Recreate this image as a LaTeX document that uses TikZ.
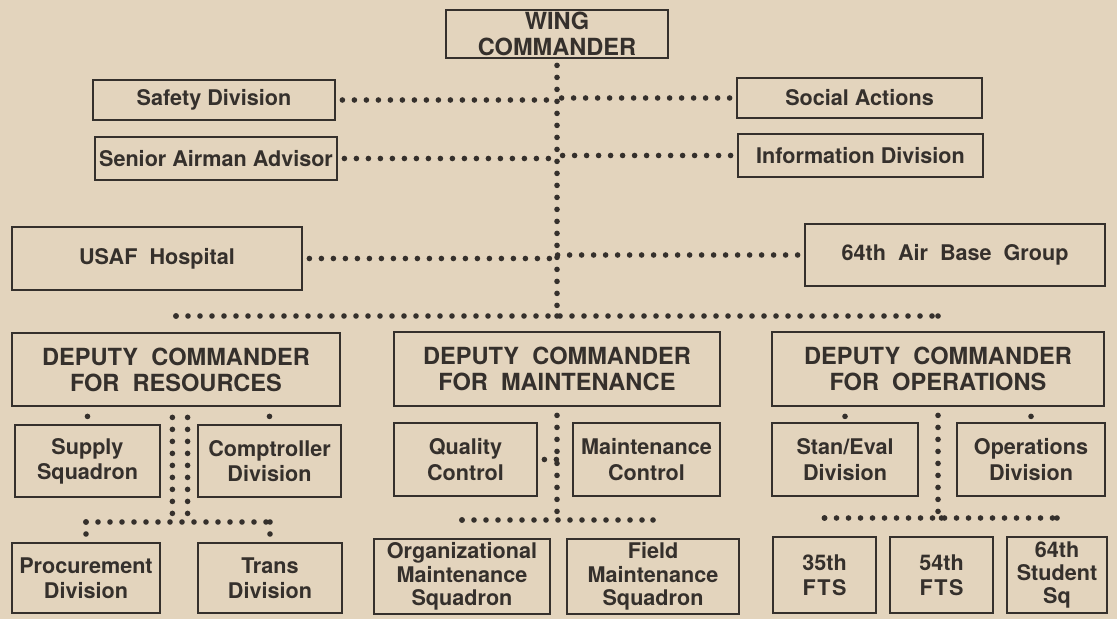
\documentclass[tikz,border=0pt]{standalone}
\usepackage{fontspec}
\setmainfont{TeX Gyre Heros}
\usepackage{tikz}
\definecolor{paper}{HTML}{E3D4BD}
\definecolor{ink}{HTML}{35302C}
\tikzset{
  box/.style={draw=ink, line width=1.4pt, align=center, inner sep=0pt, text=ink,
    font=\bfseries\fontsize{10.8}{12.6}\selectfont},
  bigbox/.style={box, font=\bfseries\fontsize{11.8}{13}\selectfont},
  tallbox/.style={box, font=\bfseries\fontsize{10.8}{11.6}\selectfont},
  link/.style={draw=ink, line width=2.8pt, line cap=round, dash pattern=on 0pt off 6pt},
  shortlink/.style={link, shorten <=4.5pt, shorten >=4.5pt},
}

\begin{document}
\begin{tikzpicture}[x=0.5pt,y=-0.5pt]
  \fill[paper] (0,0) rectangle (1117,619);
  \useasboundingbox (0,0) rectangle (1117,619);
  % top
  \node[bigbox, minimum width=111pt, minimum height=24pt] (wing) at (557,34) {WING\\COMMANDER};
  \node[box, minimum width=121pt, minimum height=20pt] (safety) at (214,100) {Safety Division};
  \node[box, minimum width=122.5pt, minimum height=20pt] (social) at (859.5,98) {Social Actions};
  \node[box, minimum width=121pt, minimum height=21.5pt] (senior) at (216,158.5) {Senior Airman Advisor};
  \node[box, minimum width=122.5pt, minimum height=21.5pt] (info) at (860.5,155.5) {Information Division};
  \node[box, minimum width=145pt, minimum height=31.5pt] (hosp) at (157,258.5) {USAF\ \ Hospital};
  \node[box, minimum width=150pt, minimum height=31pt] (abg) at (955,255) {64th\ \ Air\ \ Base\ \ Group};
  \coordinate (hub) at (557,316);
  % deputies
  \node[bigbox, minimum width=164pt, minimum height=36.5pt] (dcr) at (176,369.5) {DEPUTY\ \ COMMANDER\\FOR\ \ RESOURCES};
  \node[bigbox, minimum width=163pt, minimum height=37pt] (dcm) at (557,369) {DEPUTY\ \ COMMANDER\\FOR\ \ MAINTENANCE};
  \node[bigbox, minimum width=166pt, minimum height=37pt] (dco) at (938,369) {DEPUTY\ \ COMMANDER\\FOR\ \ OPERATIONS};
  % staff row
  \node[box, minimum width=72.5pt, minimum height=36pt] (supply) at (87.5,461) {Supply\\Squadron};
  \node[box, minimum width=71.5pt, minimum height=36pt] (compt) at (269.5,461) {Comptroller\\Division};
  \node[box, minimum width=71.5pt, minimum height=36.5pt] (qc) at (465.5,459.5) {Quality\\Control};
  \node[box, minimum width=73.5pt, minimum height=36.5pt] (mc) at (646.5,459.5) {Maintenance\\Control};
  \node[box, minimum width=73pt, minimum height=36.5pt] (stan) at (845,459.5) {Stan/Eval\\Division};
  \node[box, minimum width=74pt, minimum height=36.5pt] (opsd) at (1031,459.5) {Operations\\Division};
  % units
  \node[box, minimum width=74pt, minimum height=35pt] (proc) at (86,578) {Procurement\\Division};
  \node[box, minimum width=72pt, minimum height=35pt] (trans) at (270,578) {Trans\\Division};
  \node[tallbox, minimum width=88pt, minimum height=37.5pt] (oms) at (462,576.5) {Organizational\\Maintenance\\Squadron};
  \node[tallbox, minimum width=86pt, minimum height=37.5pt] (fms) at (653,576.5) {Field\\Maintenance\\Squadron};
  \node[box, minimum width=51.5pt, minimum height=38pt] (f35) at (824.5,575) {35th\\F\kern0.8pt T\kern0.8pt S};
  \node[box, minimum width=51.5pt, minimum height=38pt] (f54) at (941.5,575) {54th\\F\kern0.8pt T\kern0.8pt S};
  \node[tallbox, minimum width=50pt, minimum height=38pt] (s64) at (1057,575) {64th\\Student\\Sq};
  \coordinate (rbar) at (180,522);
  \coordinate (mbar) at (557,520);
  \coordinate (obar) at (938,518);

  % wing staff
  \draw[link, shorten <=3pt] (wing.south) -- (hub);
  \foreach \b in {safety,senior,hosp}
    \draw[link, shorten <=3pt] (\b.east) -- (\b.east -| hub);
  \foreach \b in {social,info,abg}
    \draw[link, shorten <=3pt] (\b.west) -- (\b.west -| hub);
  \draw[link] (dcr.north |- hub) -- (dco.north |- hub);
  \draw[link, shorten >=3pt] (dcr.north |- hub) -- (dcr.north);
  \draw[link, shorten >=3pt] (hub) -- (dcm.north);
  \draw[link, shorten >=3pt] (dco.north |- hub) -- (dco.north);

  % resources
  \draw[shortlink] (supply.north |- dcr.south) -- (supply.north);
  \draw[shortlink] (compt.north |- dcr.south) -- (compt.north);
  \draw[link, shorten <=5pt] ([xshift=-3.8pt]dcr.south -| rbar) -- ([xshift=-3.8pt]rbar);
  \draw[link, shorten <=5pt] ([xshift=3.8pt]dcr.south -| rbar) -- ([xshift=3.8pt]rbar);
  \draw[link] (proc.north |- rbar) -- (trans.north |- rbar);
  \draw[link, shorten >=3pt] (proc.north |- rbar) -- (proc.north);
  \draw[link, shorten >=3pt] (trans.north |- rbar) -- (trans.north);

  % maintenance
  \draw[link, shorten <=4pt] (dcm.south) -- (mbar);
  \draw[link, shorten <=3pt, shorten >=3pt] (qc.east) -- (mc.west);
  \draw[link] (oms.north |- mbar) -- (fms.north |- mbar);
  \draw[link, shorten >=3pt] (oms.north |- mbar) -- (oms.north);
  \draw[link, shorten >=3pt] (fms.north |- mbar) -- (fms.north);

  % operations
  \draw[shortlink] (stan.north |- dco.south) -- (stan.north);
  \draw[shortlink] (opsd.north |- dco.south) -- (opsd.north);
  \draw[link, shorten <=4pt] (dco.south) -- (obar);
  \draw[link] (f35.north |- obar) -- (s64.north |- obar);
  \foreach \b in {f35,f54,s64}
    \draw[link, shorten >=3pt] (\b.north |- obar) -- (\b.north);
\end{tikzpicture}
\end{document}
